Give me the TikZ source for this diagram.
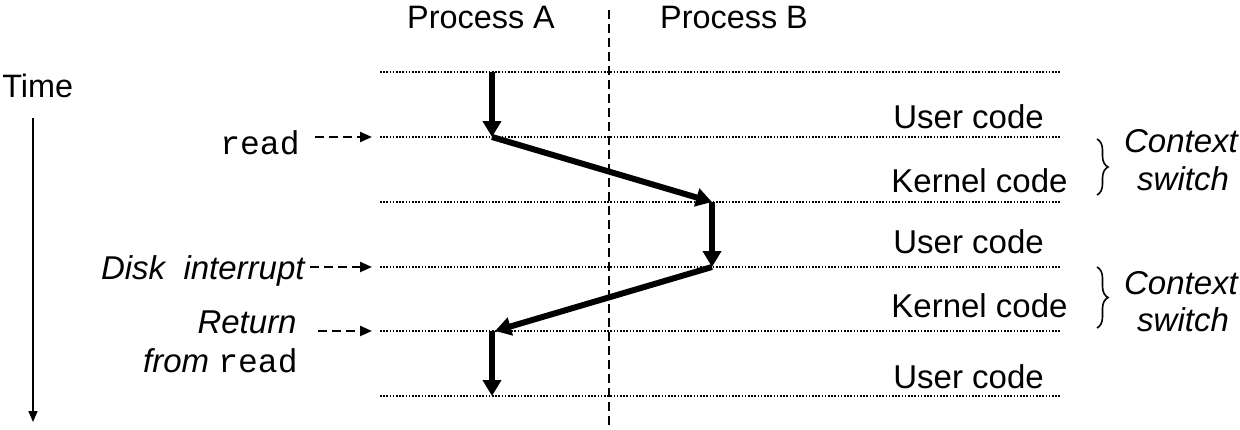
\documentclass[tikz,border=0pt]{standalone}
\usepackage{fontspec}
\setmainfont{Liberation Sans}
\setmonofont{Liberation Mono}
\usetikzlibrary{arrows.meta,decorations.pathreplacing}
\begin{document}
\begin{tikzpicture}[x=0.5pt,y=-0.5pt,
  lbl/.style={font=\fontsize{16.5}{19}\selectfont, inner sep=0},
  hdr/.style={font=\fontsize{16.2}{19}\selectfont, inner sep=0},
  level/.style={line width=0.9pt, dash pattern=on 0.8pt off 0.8pt},
  sepline/.style={line width=1pt, dash pattern=on 4.5pt off 2.5pt},
  ptr/.style={line width=1.1pt, dash pattern=on 4.5pt off 2.5pt, -{Triangle[length=6pt,width=5pt]}},
  flow/.style={line width=3pt, -{Triangle[length=8pt,width=9pt]}},
  timeax/.style={line width=0.8pt, -{Triangle[length=5.5pt,width=4.5pt]}},
  brc/.style={line width=0.8pt, decorate, decoration={brace, amplitude=5.5pt}}]
\useasboundingbox (0,0) rectangle (1240,429);

% level lines
\foreach \n/\y in {1/72,2/137,3/202,4/267,5/331,6/396}{
  \coordinate (L\n w) at (380,\y);
  \coordinate (L\n e) at (1060,\y);
  \draw[level] (L\n w) -- (L\n e);
}

% separator
\coordinate (septop) at (609,10);
\coordinate (sepbot) at (609,429);
\draw[sepline] (septop) -- (sepbot);

% headers
\node[hdr, anchor=base] (pa) at (481,28) {Process A};
\node[hdr, anchor=base] (pb) at (734,28) {Process B};

% time axis
\node[hdr, anchor=base west] (time) at (2,97) {Time};
\coordinate (t0) at (33,118);
\coordinate (t1) at (33,422);
\draw[timeax] (t0) -- (t1);

% left labels
\node[lbl, anchor=base east] (rd) at (300,154) {\texttt{read}};
\node[lbl, anchor=base east] (di) at (305,279) {\itshape Disk\ \ interrupt};
\node[lbl, anchor=base east] (ret) at (297,333) {\itshape Return};
\node[lbl, anchor=base east] (frd) at (298,372) {\itshape from \upshape\texttt{read}};

\coordinate (p1s) at (315,137);
\coordinate (p1e) at (372,137);
\coordinate (p2s) at (310,267);
\coordinate (p2e) at (372,267);
\coordinate (p3s) at (318,331);
\coordinate (p3e) at (372,331);
\draw[ptr] (p1s) -- (p1e);
\draw[ptr] (p2s) -- (p2e);
\draw[ptr] (p3s) -- (p3e);

% control flow
\coordinate (a0) at (492,72);
\coordinate (a1) at (492,137);
\coordinate (b1) at (712,202);
\coordinate (b2) at (712,267);
\coordinate (a2) at (495,331);
\coordinate (a3) at (492,331);
\coordinate (a4) at (492,396);
\draw[flow] (a0) -- (a1);
\draw[flow] (a1) -- (b1);
\draw[flow] (b1) -- (b2);
\draw[flow] (b2) -- (a2);
\draw[flow] (a3) -- (a4);

% code labels
\node[lbl, anchor=base west] (u1) at (893,128) {User code};
\node[lbl, anchor=base west] (k1) at (891,192) {Kernel code};
\node[lbl, anchor=base west] (u2) at (893,253) {User code};
\node[lbl, anchor=base west] (k2) at (891,317) {Kernel code};
\node[lbl, anchor=base west] (u3) at (893,388) {User code};

% braces
\coordinate (br1t) at (1097,139);
\coordinate (br1b) at (1097,195);
\coordinate (br2t) at (1097,267);
\coordinate (br2b) at (1097,328);
\draw[brc] (br1t) -- (br1b);
\draw[brc] (br2t) -- (br2b);

\node[lbl, anchor=base, font=\fontsize{16.5}{19}\selectfont\itshape] (c1) at (1181,152) {Context};
\node[lbl, anchor=base, font=\fontsize{16.5}{19}\selectfont\itshape] (s1) at (1183,190) {switch};
\node[lbl, anchor=base, font=\fontsize{16.5}{19}\selectfont\itshape] (c2) at (1181,294) {Context};
\node[lbl, anchor=base, font=\fontsize{16.5}{19}\selectfont\itshape] (s2) at (1183,331) {switch};
\end{tikzpicture}
\end{document}
